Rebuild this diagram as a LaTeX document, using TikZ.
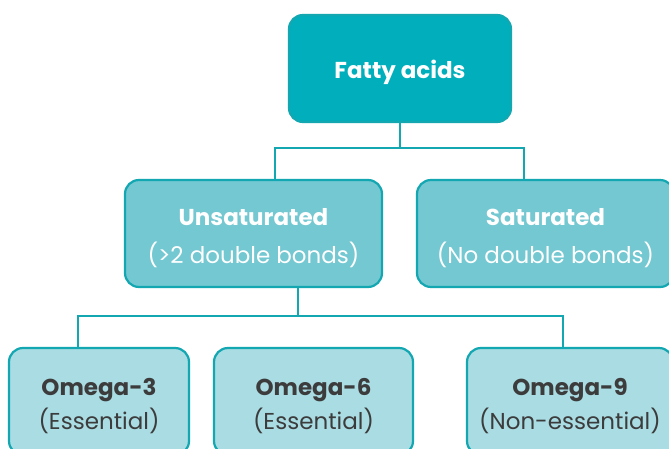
\documentclass[tikz,border=0pt]{standalone}
\usepackage{fontspec}
\setmainfont{Poppins}
\usepackage{xcolor}
\definecolor{tealdark}{HTML}{00AFBB}
\definecolor{tealmid}{HTML}{74C8D1}
\definecolor{teallight}{HTML}{A9DCE3}
\definecolor{tealline}{HTML}{13A7B2}
\definecolor{textgray}{HTML}{3C3C3C}
\newcommand{\headstrut}{\rule{0pt}{27pt}}

\tikzset{
  box/.style={draw=tealline,line width=2.2pt,rounded corners=14pt,
    inner sep=0pt,align=center,font=\fontsize{23}{32}\selectfont},
  topbox/.style={box,fill=tealdark,text=white},
  midbox/.style={box,fill=tealmid,text=white,minimum height=107pt},
  lowbox/.style={box,fill=teallight,text=textgray,minimum height=107pt},
  link/.style={draw=tealline,line width=2.2pt}
}

\begin{document}
\begin{tikzpicture}[x=1pt,y=1pt]
  \useasboundingbox (0,0) rectangle (669,449);
  \clip (0,0) rectangle (669,449);
  % top level
  \node[topbox,minimum width=222pt,minimum height=107pt] (fatty) at (400,380.5)
    {\headstrut\textbf{Fatty acids}};
  % second level
  \node[midbox,minimum width=257pt] (unsat) at (253.5,215.5)
    {\headstrut\textbf{Unsaturated}\\[6pt](>2 double bonds)};
  \node[midbox,minimum width=257pt] (sat) at (545.5,215.5)
    {\headstrut\textbf{Saturated}\\[6pt](No double bonds)};
  % third level
  \node[lowbox,minimum width=180pt] (om3) at (99,47.5)
    {\headstrut\textbf{Omega-3}\\[2pt](Essential)};
  \node[lowbox,minimum width=199pt] (om6) at (313.5,47.5)
    {\headstrut\textbf{Omega-6}\\[2pt](Essential)};
  \node[lowbox,minimum width=206pt] (om9) at (570,47.5)
    {\headstrut\textbf{Omega-9}\\[2pt](Non-essential)};
  % connectors
  \coordinate (hubA) at (400,301);
  \coordinate (dropA) at (275,0);
  \coordinate (dropB) at (524,0);
  \coordinate (hubB) at (298,133);
  \coordinate (dropC) at (78,0);
  \coordinate (dropD) at (563,0);
  \draw[link] (fatty.south) -- (hubA);
  \draw[link] (unsat.north -| dropA) |- (hubA) -| (sat.north -| dropB);
  \draw[link] (unsat.south -| hubB) -- (hubB);
  \draw[link] (om3.north -| dropC) |- (hubB) -| (om9.north -| dropD);
\end{tikzpicture}
\end{document}
